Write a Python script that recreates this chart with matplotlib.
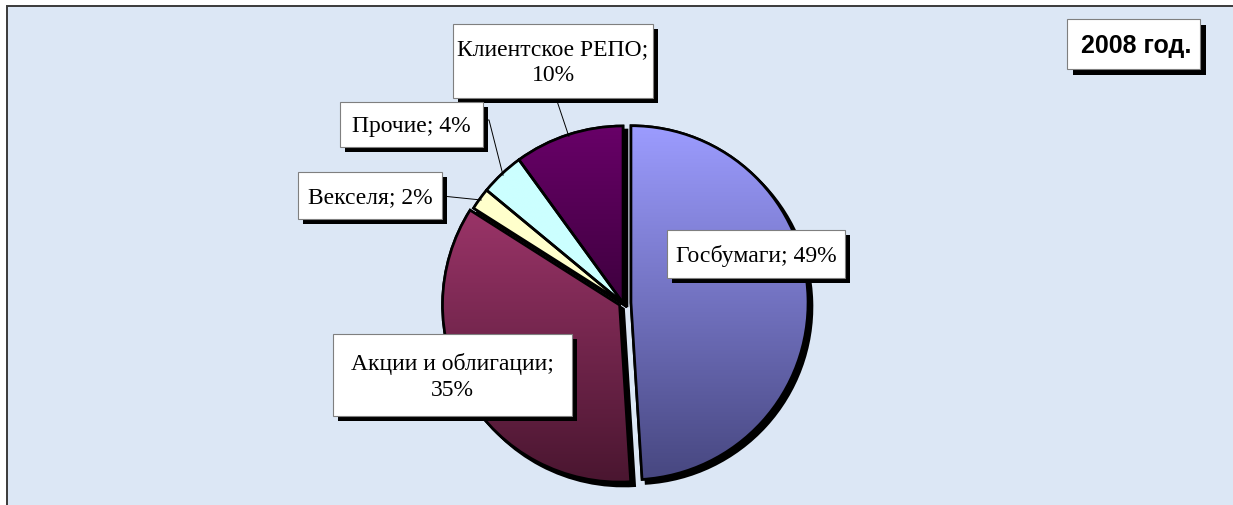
import numpy as np
import matplotlib.pyplot as plt
from matplotlib.colors import LinearSegmentedColormap
from matplotlib.patches import Rectangle, Wedge

# data
labels = ['Госбумаги', 'Акции и облигации', 'Векселя', 'Прочие', 'Клиентское РЕПО']
values = [49, 35, 2, 4, 10]
label_texts = ['Госбумаги; 49%', 'Акции и облигации;\n35%', 'Векселя; 2%',
               'Прочие; 4%', 'Клиентское РЕПО;\n10%']
title = '2008 год.'

# styling
top_colors = ['#9C9CFF', '#9A3468', '#FFFFCC', '#CCFFFF', '#680068']
bottom_colors = ['#474780', '#4A1630', '#FFFFCC', '#CCFFFF', '#3E003E']

W, H = 1233, 506
cx, cy, R = 623, 304, 177
explode = [8, 4, 0, 0, 0]  # pixels

# label boxes (x0, y0, x1, y1) in pixels, image coords
boxes = [(667, 231, 845, 279), (333, 335, 572, 417), (298, 173, 442, 220),
         (340, 103, 483, 148), (453, 25, 653, 99)]

fig = plt.figure(figsize=(W / 100, H / 100), dpi=100)
fig.patch.set_facecolor('white')
ax = fig.add_axes([0, 0, 1, 1])
ax.axis('off')

ax.add_patch(Rectangle((7, 7), W, H, facecolor='#DCE7F5', edgecolor='#3A3A3A',
                       lw=1.4, zorder=0))

# y axis inverted -> counterclock=True draws clockwise on screen, 270 = up
wedges, _ = ax.pie(values, startangle=270, counterclock=True, explode=explode,
                   center=(cx, cy), radius=R, frame=True,
                   wedgeprops=dict(edgecolor='black', linewidth=1.9))

for i, w in enumerate(wedges):
    w.set_zorder(3)
    # shadow
    sh = Wedge((w.center[0] + 4, w.center[1] + 4), w.r, w.theta1, w.theta2,
               facecolor='black', edgecolor='black', lw=1.9, zorder=2)
    ax.add_patch(sh)
    # vertical gradient
    ext = w.get_path().get_extents()
    cmap = LinearSegmentedColormap.from_list('g%d' % i, [top_colors[i], bottom_colors[i]])
    grad = np.linspace(0, 1, 256).reshape(-1, 1)
    im = ax.imshow(grad, cmap=cmap, aspect='auto', origin='upper',
                   extent=(ext.x0, ext.x1, ext.y1, ext.y0), zorder=3.5,
                   interpolation='bilinear')
    im.set_clip_path(w)
    edge = Wedge(w.center, w.r, w.theta1, w.theta2, facecolor='none',
                 edgecolor='black', lw=1.9, zorder=4)
    ax.add_patch(edge)

# leader lines for the small slices
for i, start in [(2, (442, 197)), (3, (483, 121)), (4, (556, 99))]:
    w = wedges[i]
    mid = np.deg2rad((w.theta1 + w.theta2) / 2)
    ex = w.center[0] + R * 0.99 * np.cos(mid)
    ey = w.center[1] + R * 0.99 * np.sin(mid)
    if i == 3:
        ax.plot([start[0], start[0] + 6, ex], [start[1], start[1], ey],
                color='black', lw=0.7, zorder=5)
    else:
        ax.plot([start[0], ex], [start[1], ey], color='black', lw=0.7, zorder=5)

# label boxes
for (x0, y0, x1, y1), txt in zip(boxes, label_texts):
    ax.add_patch(Rectangle((x0 + 5, y0 + 5), x1 - x0, y1 - y0,
                           facecolor='black', edgecolor='none', zorder=6))
    ax.add_patch(Rectangle((x0, y0), x1 - x0, y1 - y0, facecolor='white',
                           edgecolor='#7F7F7F', lw=0.8, zorder=7))
    ax.text((x0 + x1) / 2, (y0 + y1) / 2 + 1, txt, ha='center', va='center',
            family='Liberation Serif', fontsize=17, linespacing=1.3, zorder=8)

# year box
tx0, ty0, tx1, ty1 = 1067, 20, 1200, 70
ax.add_patch(Rectangle((tx0 + 6, ty0 + 6), tx1 - tx0, ty1 - ty0,
                       facecolor='black', edgecolor='none', zorder=6))
ax.add_patch(Rectangle((tx0, ty0), tx1 - tx0, ty1 - ty0, facecolor='white',
                       edgecolor='#7F7F7F', lw=0.8, zorder=7))
ax.text((tx0 + tx1) / 2 + 3, (ty0 + ty1) / 2 + 1, title, ha='center', va='center',
        family='Liberation Sans', fontweight='bold', fontsize=18, zorder=8)

ax.set_aspect('auto')
ax.set_xlim(0, W)
ax.set_ylim(H, 0)

fig.savefig('out.png', dpi=100, facecolor=fig.get_facecolor())
